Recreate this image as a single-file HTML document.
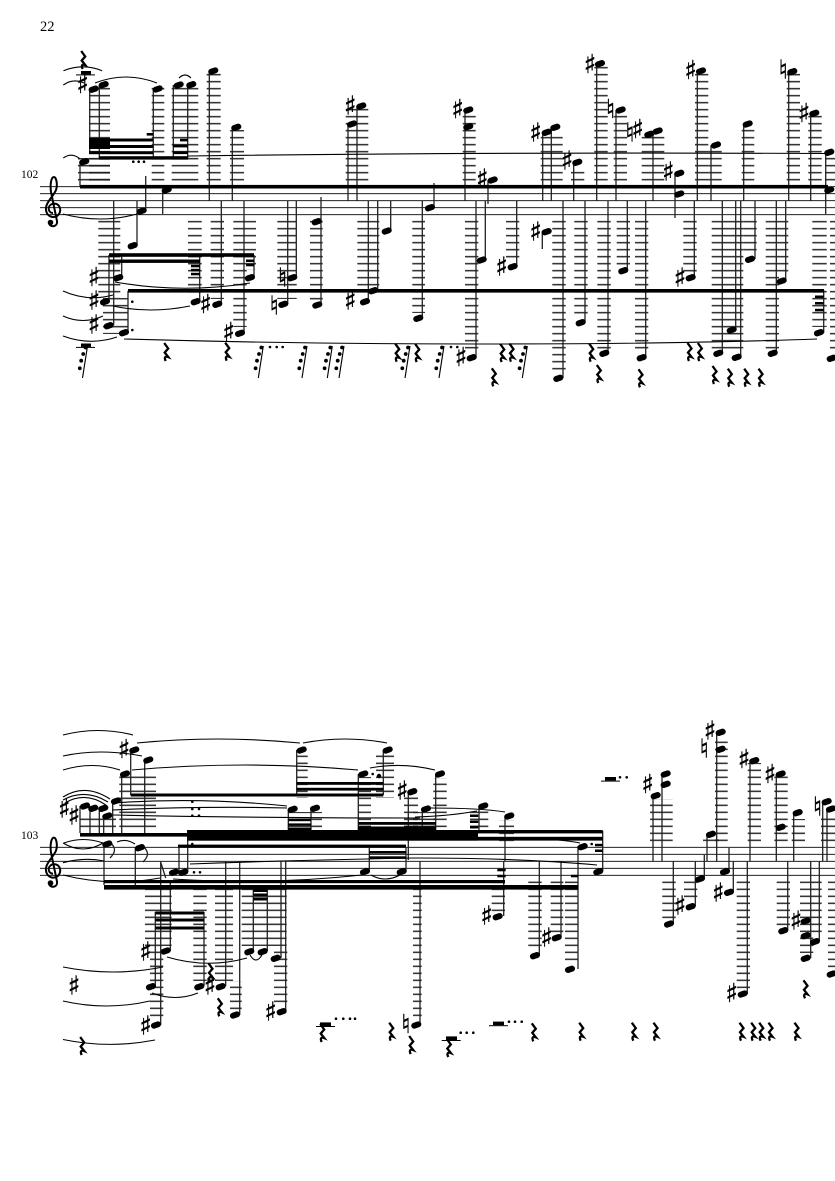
<!DOCTYPE html>
<html><head><meta charset="utf-8"><title>Score page 22</title>
<style>
html,body{margin:0;padding:0;background:#fff}
svg{display:block}
.s{font:26px "DejaVu Sans",sans-serif;text-anchor:middle;dominant-baseline:central;fill:#000;stroke:#000;stroke-width:.45}
.t{font-family:"Liberation Serif",serif;fill:#000}
.n{fill:none;stroke:#000;stroke-width:6;stroke-linecap:round;stroke-dasharray:4.3 100;stroke-dashoffset:-1}
</style></head><body>
<svg width="835" height="1181" viewBox="0 0 835 1181" xmlns="http://www.w3.org/2000/svg">
<defs>
<pattern id="a" patternUnits="userSpaceOnUse" width="10" height="7" y="1.2"><rect y="2.8" width="10" height="1.4" fill="#1a1a1a"/></pattern>
<pattern id="b" patternUnits="userSpaceOnUse" width="10" height="7" y="3.8"><rect y="2.8" width="10" height="1.4" fill="#1a1a1a"/></pattern>
<g id="q"><path d="M-1.5-9 2.5-3.5-1 .5 2.5 5C0 4-2 5 0 9" fill="none" stroke="#000" stroke-width="2.3"/></g>
<g id="f"><path d="M0 0-5 32" stroke="#000" stroke-width="1.1" fill="none"/><circle cx="-2" cy="1.5" r="1.9"/><circle cx="-4.3" cy="8" r="1.9"/><circle cx="-6.3" cy="14.7" r="1.9"/><circle cx="-7.7" cy="22.3" r="1.9"/></g>
<g id="c"><path d="M53 213C48 213 47 206 52 204 59 202 62 209 59 214 56 219 47 218 46 210 45 203 53 197 56 190 58 184 56 177 54 177 51 177 50 185 51 192L57 221C58 227 50 228 49 223" fill="none" stroke="#000" stroke-width="2"/><circle cx="50.5" cy="222.5" r="2.8"/></g>
</defs>
<rect width="835" height="1181" fill="#fff"/>
<text class="t" x="40" y="31" font-size="14.5">22</text>
<text class="t" x="21" y="178" font-size="11.5">102</text>
<text class="t" x="21" y="839" font-size="11.5">103</text>

<!-- staves -->
<path d="M40 186.7H835M40 193.7H835M40 200.7H835M40 207.7H835M40 214.7H835M40 847.3H835M40 854.3H835M40 861.3H835M40 868.3H835M40 875.3H835" stroke="#000" stroke-width=".9" fill="none"/>
<use href="#c"/><use href="#c" y="660.6"/>

<!-- ledger ladders system 1 -->
<g fill="url(#a)">
<rect x="89" y="85" width="21" height="98"/><rect x="151.7" y="85" width="12.6" height="98"/><rect x="171.7" y="85" width="26.6" height="98"/>
<rect x="78" y="158" width="32" height="25"/><rect x="206.7" y="72" width="14" height="111"/><rect x="230" y="130" width="14" height="53"/>
<rect x="345.7" y="107" width="22.6" height="76"/><rect x="462.7" y="113" width="13" height="70"/><rect x="540.7" y="135" width="22" height="48"/>
<rect x="571" y="170" width="13.3" height="13"/><rect x="594.3" y="65" width="13.4" height="118"/><rect x="613.7" y="114" width="13.3" height="69"/>
<rect x="641.7" y="135" width="22.6" height="48"/><rect x="695" y="72" width="13.3" height="111"/><rect x="708.3" y="149" width="13.4" height="34"/>
<rect x="741.7" y="128" width="12.6" height="55"/><rect x="786.7" y="73" width="13.3" height="110"/><rect x="808.3" y="114" width="13.4" height="69"/><rect x="825" y="156" width="10" height="27"/>
<rect x="98.3" y="218" width="22" height="80"/><rect x="103" y="298" width="25" height="36"/>
<rect x="188" y="218" width="13.7" height="78"/><rect x="210.7" y="218" width="13.3" height="81"/><rect x="233.3" y="218" width="22.7" height="52"/><rect x="233.3" y="270" width="13.4" height="57"/>
<rect x="277.3" y="218" width="19.4" height="81"/><rect x="310" y="218" width="12.7" height="82"/><rect x="357.3" y="218" width="22" height="68"/>
<rect x="412.3" y="218" width="12.7" height="95"/><rect x="465" y="218" width="13.3" height="134"/><rect x="506" y="218" width="13.3" height="43"/>
<rect x="552.3" y="218" width="13.4" height="155"/><rect x="574.3" y="218" width="13.4" height="99"/><rect x="597.3" y="218" width="13.4" height="131"/>
<rect x="616.7" y="218" width="13.3" height="47"/><rect x="635" y="218" width="13.3" height="134"/><rect x="683.3" y="218" width="13.4" height="54"/>
<rect x="711.7" y="218" width="13.3" height="131"/><rect x="725" y="218" width="18.3" height="134"/><rect x="743.3" y="218" width="13.4" height="35"/>
<rect x="765.7" y="218" width="13.3" height="131"/><rect x="779" y="218" width="9.3" height="58"/><rect x="812.3" y="218" width="14.4" height="109"/><rect x="830" y="218" width="5" height="134"/>
</g>
<!-- ledger ladders system 2 -->
<g fill="url(#b)">
<rect x="119.3" y="775" width="36.7" height="56"/><rect x="80" y="816" width="36" height="16"/>
<rect x="296.7" y="753" width="11" height="45"/><rect x="376" y="753" width="18" height="45"/><rect x="358" y="777" width="13" height="55"/><rect x="288" y="812" width="34" height="20"/>
<rect x="404" y="795" width="14" height="37"/>
<rect x="433.3" y="778" width="13.4" height="50"/><rect x="413" y="812" width="22" height="20"/><rect x="470" y="810" width="18.3" height="20"/><rect x="499" y="820" width="15" height="22"/>
<rect x="650" y="799" width="22.7" height="44"/><rect x="715" y="738" width="12.7" height="105"/><rect x="747.7" y="763" width="13.3" height="80"/><rect x="774.3" y="776" width="13.4" height="67"/><rect x="791.7" y="819" width="13.3" height="24"/><rect x="821" y="814" width="14" height="29"/><rect x="703" y="838" width="16" height="5"/>
<rect x="145" y="888" width="26.7" height="58"/><rect x="150" y="946" width="13.3" height="75"/><rect x="193.3" y="888" width="13.4" height="93"/><rect x="215" y="888" width="18" height="93"/><rect x="230" y="981" width="11.7" height="30"/><rect x="241.7" y="888" width="45" height="58"/><rect x="274" y="950" width="13.3" height="56"/>
<rect x="413" y="888" width="8.7" height="132"/><rect x="491.7" y="881" width="13.3" height="31"/><rect x="528.3" y="881" width="13.4" height="70"/><rect x="550.7" y="881" width="12.6" height="52"/><rect x="565" y="881" width="13.3" height="83"/>
<rect x="662.3" y="881" width="13.4" height="38"/><rect x="684" y="881" width="13.3" height="21"/><rect x="736.7" y="881" width="13.3" height="108"/><rect x="776.7" y="881" width="13.3" height="45"/><rect x="800" y="881" width="13.3" height="72"/><rect x="813" y="881" width="8.7" height="55"/><rect x="828" y="881" width="7" height="88"/>
</g>

<!-- stems -->
<path fill="none" stroke="#222" stroke-width="1.3" d="M89.7 89V153M99.3 85V158M153.3 89V158M173.3 85V158M187.7 85V158M209.3 71V200.7M232.3 127V200.7M348 124V200.7M357 106V200.7M80 161V187M162.7 190V214M145.7 176V211M137 200.7V245M113.7 200.7V325M121.7 255V277M109 255V301M128 291V332M199.7 255V301M221.3 200.7V304M244 200.7V333M254 255V277M296.3 200.7V277M287.7 200.7V304M321 197V305M368.3 200.7V301M377.7 200.7V290M390.7 200.7V231M434 183V207M422.3 200.7V318M465 110V200.7M488 180V204M476 200.7V357M485.3 200.7V260M516.7 200.7V266M542.7 132V200.7M551.3 127V200.7M542.3 231V249M563 200.7V378M573.7 162V200.7M585 200.7V322M596.7 63V200.7M608 200.7V353M616 110V200.7M627.3 200.7V270M645.7 200.7V357M653 131V200.7M675 173V218M694.3 200.7V277M697.3 71V200.7M711 145V200.7M722.3 200.7V353M735.7 200.7V330M740.7 200.7V357M743.7 124V200.7M755 200.7V259M776.3 200.7V353M785.7 200.7V281M788.7 71V200.7M810.7 113V200.7M823.7 290V333M825.7 152V214"/>
<path fill="none" stroke="#222" stroke-width="1.3" d="M130.7 750V795M144.7 760V833M121.7 774V833M112.7 801V833M80 806V833M90 808V833M99.3 808V833M103.7 816V833M296.7 750V795M383.3 750V795M358.3 774V830M288.3 809V830M311 808V830M408.3 791V860M435.7 774V830M422.3 809V830M479 806V830M505 816V861M503.7 861V916M578 846V969M602.7 831V871M539.3 861V955M561 861V937M653 795V861M662 774V861M673.3 861V924M695.3 861V906M704.3 855V879M707 834V861M716.7 732V861M729 848V871M733.3 861V892M747.3 861V994M750 760V861M776.3 774V861M787.7 861V930M793.7 812V861M810.7 861V958M819.3 861V941M822.7 801V861M827 809V861M170.3 880V951M155.3 912V987M160.7 861V1025M204 912V986M225.7 861V986M239.7 861V1015M253.3 885V951M267.3 885V951M281 861V958M285.7 861V1011M420 861V1025M104 844V885M135.3 847V885M179 848V872M187.7 840V872M369.3 848V871M406 848V871M161 863 165.7 878M110 842C116 848 116 852 110 858M143 846C149 852 149 856 143 862"/>

<!-- noteheads -->
<path class="n" d="M90.7 90.2l6-2M100.7 85.7l6-2M154.7 90l6-2M175.7 86l6-2M188.3 85.7l6-2M210.3 72l6-2M233.3 128.3l6-2M349 125l6-2M358.3 107l6-2M81.3 162.7l6-2M163.7 191l6-2M138.7 212l6-2M129.7 246.7l6-2M115.3 278.7l6-2M102 302.7l6-2M105.7 326.7l6-2M121 333.7l6-2M192.7 302.7l6-2M214.3 305.3l6-2M247 278.7l6-2M237 334.3l6-2M289.3 278.7l6-2M280.3 305.3l6-2M313.7 222.7l6-2M314.3 306l6-2M362 302.7l6-2M370.3 291.7l6-2M383.7 232l6-2M427 208.7l6-2M415.3 319.3l6-2M465.3 111l6-2M465.3 127.7l6-2M489.7 181l6-2M468.7 358.7l6-2M478.7 261l6-2M509.7 267.7l6-2M543.7 133.3l6-2M552.3 128.3l6-2M543.7 232.7l6-2M555.3 379.3l6-2M574.3 163.3l6-2M577.7 323.7l6-2M597 64.7l6-2M601.3 354.3l6-2M617.7 111l6-2M620.3 271.7l6-2M638.7 358.7l6-2M646.3 135.3l6-2M654.7 132l6-2M676.3 174.3l6-2M676.3 195l6-2M687.7 278.7l6-2M698 72l6-2M713 146l6-2M715.3 354.3l6-2M728.7 331l6-2M733.7 358.3l6-2M744.7 125l6-2M747 260.3l6-2M769.7 354.3l6-2M778.7 282l6-2M789.3 72.7l6-2M811.3 114.3l6-2M816 333.7l6-2M826.3 153.3l6-2M826.3 191l6-2M828.7 359.3l6-2"/>
<path class="n" d="M131.3 751l6-2M145.3 761l6-2M122 775l6-2M113 802l6-2M82 807l6-2M90.3 809.3l6-2M100.3 809.3l6-2M104.3 817l6-2M298.7 751l6-2M384.7 751l6-2M360.3 775l6-2M289.7 810.3l6-2M312 809.3l6-2M409.3 792.7l6-2M437 775l6-2M423 810l6-2M480.3 807l6-2M506.3 817l6-2M494.7 917.7l6-2M579.7 847.7l6-2M567 970.3l6-2M595.3 872.7l6-2M532 956.7l6-2M553.7 938.7l6-2M652.7 796.7l6-2M662.7 775l6-2M662.7 785.3l6-2M666 925l6-2M687.7 907.7l6-2M697 880l6-2M708 835.3l6-2M717.7 733.3l6-2M717.7 750.3l6-2M722 872.7l6-2M726 893.3l6-2M739.7 995l6-2M751.3 761.7l6-2M777.7 775l6-2M777.7 828.3l6-2M794.7 813.7l6-2M780.3 931.7l6-2M802.7 922l6-2M802.7 936.7l6-2M802.7 959.3l6-2M812 942.7l6-2M823.7 802.7l6-2M828 810l6-2M828.7 975l6-2M104.3 845l6-2M137 848.7l6-2M171 873.3l6-2M180.3 873.3l6-2M362 872.7l6-2M398.7 872.7l6-2M162.7 952l6-2M148 987.7l6-2M153 1026l6-2M196.3 987.7l6-2M217.7 987.7l6-2M232 1016l6-2M246.3 952.7l6-2M259.7 952.7l6-2M272.7 959.3l6-2M278.7 1012.7l6-2M413.3 1026l6-2"/>

<!-- beams -->
<g fill="#000">
<rect x="80" y="184.9" width="748" height="3.6"/><rect x="128" y="289" width="696" height="3.6"/>
<rect x="99" y="156.2" width="89" height="3.4"/><rect x="89" y="138.5" width="64" height="3"/><rect x="89" y="145" width="64" height="3"/><rect x="89" y="151.2" width="64" height="3"/><rect x="89" y="138" width="21" height="7"/><rect x="89" y="146" width="21" height="3"/><rect x="146.7" y="133" width="6.6" height="2.6"/><rect x="173" y="144.6" width="15" height="2.8"/><rect x="173" y="151.3" width="15" height="2.8"/><rect x="180" y="138.8" width="8" height="2.6"/>
<rect x="109" y="253.2" width="145" height="3.6"/><rect x="109" y="259.5" width="91" height="3.4"/><rect x="191" y="264.8" width="9" height="2.5"/><rect x="191" y="268.8" width="9" height="2.5"/><rect x="191" y="272.8" width="9" height="2.5"/><rect x="246" y="259.5" width="8" height="2.5"/><rect x="246" y="263.8" width="8" height="2.5"/>
<rect x="815" y="295.5" width="8.7" height="2.5"/><rect x="815" y="302" width="8.7" height="2.5"/><rect x="815" y="308.8" width="8.7" height="2.5"/>

<rect x="80" y="833" width="108" height="3.6"/><rect x="187" y="830" width="291" height="10.7"/><rect x="478" y="830" width="124.7" height="3.4"/><rect x="478" y="836.8" width="124.7" height="3.8"/>
<rect x="178" y="844.6" width="228" height="3.2"/><rect x="369" y="851" width="37" height="2.6"/><rect x="369" y="856.3" width="37" height="2.6"/>
<rect x="130.7" y="793.5" width="252.6" height="3"/><rect x="296.7" y="782" width="86.6" height="2.8"/><rect x="296.7" y="787.8" width="86.6" height="2.8"/><rect x="288" y="818.8" width="23" height="2.4"/><rect x="288" y="823.4" width="23" height="2.4"/><rect x="288" y="827.6" width="23" height="2.4"/>
<rect x="358" y="822" width="78" height="2.8"/><rect x="358" y="826.5" width="78" height="3.5"/>
<rect x="470" y="814.5" width="8.3" height="2.5"/><rect x="470" y="820.5" width="8.3" height="2.5"/><rect x="470" y="826" width="8.3" height="2.5"/>
<rect x="104" y="880" width="401" height="3.2"/><rect x="104" y="885" width="474.3" height="4.6"/>
<rect x="497.3" y="868.8" width="8.4" height="2.5"/><rect x="497.3" y="874.8" width="8.4" height="2.5"/><rect x="571" y="874.8" width="7.3" height="2.5"/><rect x="595" y="843.8" width="7.7" height="2.5"/><rect x="595" y="849.5" width="7.7" height="2.5"/>
<rect x="155.3" y="911.5" width="48.7" height="3"/><rect x="155.3" y="918.5" width="48.7" height="3"/><rect x="155.3" y="926.5" width="48.7" height="3"/>
<rect x="253.3" y="889.5" width="14" height="2.5"/><rect x="253.3" y="893.5" width="14" height="2.5"/><rect x="253.3" y="897.5" width="14" height="3"/>
<!-- block rests -->
<rect x="81" y="71" width="10" height="3.4"/><rect x="76" y="74.4" width="19" height="1"/><rect x="81" y="343.5" width="10" height="3.4"/><rect x="76" y="346.9" width="19" height="1"/>
<rect x="605" y="777" width="11" height="3.6"/><rect x="601" y="780.6" width="19" height="1"/><rect x="493" y="1021.6" width="11" height="3.6"/><rect x="489" y="1025.2" width="19" height="1"/><rect x="446" y="1036.4" width="11" height="3.6"/><rect x="441.7" y="1040" width="19" height="1"/><rect x="320" y="1022.4" width="11" height="3.6"/><rect x="316" y="1026" width="19" height="1"/>
</g>
<!-- dots -->
<g fill="#000">
<circle cx="133.3" cy="161.7" r="1.3"/><circle cx="138.7" cy="161.7" r="1.3"/><circle cx="144" cy="161.7" r="1.3"/><circle cx="132.3" cy="301.7" r="1.3"/><circle cx="132.3" cy="330" r="1.3"/>
<circle cx="270" cy="347" r="1.3"/><circle cx="276.7" cy="347" r="1.3"/><circle cx="282.7" cy="347" r="1.3"/><circle cx="451" cy="347" r="1.3"/><circle cx="457.3" cy="347" r="1.3"/>
<circle cx="192.3" cy="801.7" r="1.3"/><circle cx="192.3" cy="809" r="1.3"/><circle cx="199" cy="809" r="1.3"/><circle cx="192.3" cy="815.7" r="1.3"/><circle cx="199" cy="815.7" r="1.3"/><circle cx="192.3" cy="844" r="1.3"/>
<circle cx="194" cy="872.3" r="1.3"/><circle cx="200" cy="872.3" r="1.3"/><circle cx="372.7" cy="774" r="1.3"/><circle cx="379" cy="776" r="2.2"/><circle cx="591.7" cy="844" r="1.3"/>
<circle cx="620" cy="777.3" r="1.3"/><circle cx="626.7" cy="777.3" r="1.3"/><circle cx="509" cy="1021.7" r="1.3"/><circle cx="515" cy="1021.7" r="1.3"/><circle cx="521.7" cy="1021.7" r="1.3"/><circle cx="460.7" cy="1032.7" r="1.3"/><circle cx="466.7" cy="1032.7" r="1.3"/><circle cx="473.3" cy="1032.7" r="1.3"/><circle cx="336" cy="1018.7" r="1.3"/><circle cx="343.3" cy="1018.7" r="1.3"/><circle cx="350" cy="1018.7" r="1.3"/><circle cx="355" cy="1018.7" r="1.3"/>
</g>

<!-- slurs and ties -->
<path fill="none" stroke="#000" stroke-width="1.1" d="M63.5 70.7Q83 63 102 70.7M63.3 85Q73 78 84 83M63.3 158Q72 152 80 159M95 83Q126 71 157 83M179 78Q185 72 191 78M188 156Q500 152 825 153.5M63 214Q100 224 137 214M115 282Q182 294 250 283M113 306Q150 314 190 306M63 291Q88 302 113 295M63 316Q83 325 103 316M63 336Q90 346 117 337M124 339Q300 344 480 344Q680 344 817 339"/>
<path fill="none" stroke="#000" stroke-width="1.1" d="M63 735Q98 726 133 735M63 756Q100 748 142 756M63 770Q92 761 120 770M63 797Q85 783 110 799M63 800Q85 788 108 802M65 803Q85 791 106 805M137 743Q218 735 300 743M303 743Q345 735 387 743M132 770Q245 760 358 770M370 768Q402 762 435 770M112 803Q200 797 287 806M112 810Q200 806 287 808M113 815Q260 818 420 818M415 817Q450 816 477 811M430 808Q480 808 505 812M167 957Q207 969 247 958M250 955Q256 965 262 955M152 993Q175 1002 198 993M63 967Q113 977 163 967M63 1001Q106 1011 150 1001M63 1039.5Q109 1049 155 1040M371 875Q385 883 400 875M63 862.7Q84 857 104 861M63 875Q110 887 160 878M190 864Q300 860 415 858Q520 858 597 865M173 879Q270 885 362 875M63 843Q83 855 103 843M64 843Q83 836 103 843M117 842Q126 838 135 844M542 839Q565 840 580 843"/>

<!-- quarter rests -->
<g fill="#000">
<use href="#q" x="82.7" y="60"/><use href="#q" x="165.7" y="352"/><use href="#q" x="226.7" y="351.7"/><use href="#q" x="396.7" y="352.7"/><use href="#q" x="416.7" y="353"/><use href="#q" x="501.7" y="353"/><use href="#q" x="511" y="352.7"/><use href="#q" x="493.3" y="377.3"/><use href="#q" x="590.7" y="352.7"/><use href="#q" x="598.3" y="374"/><use href="#q" x="640" y="378.3"/><use href="#q" x="689" y="352"/><use href="#q" x="699.3" y="352"/><use href="#q" x="714" y="375"/><use href="#q" x="729.3" y="377.7"/><use href="#q" x="745.7" y="377.7"/><use href="#q" x="760" y="377.7"/>
<use href="#q" x="210" y="972.3"/><use href="#q" x="219.3" y="1007.3"/><use href="#q" x="81.7" y="1046"/><use href="#q" x="448.3" y="1048"/><use href="#q" x="321.7" y="1033"/><use href="#q" x="390.7" y="1031.7"/><use href="#q" x="410.7" y="1045"/><use href="#q" x="533.3" y="1032.3"/><use href="#q" x="580.7" y="1031.7"/><use href="#q" x="633.3" y="1031.7"/><use href="#q" x="655" y="1031.7"/><use href="#q" x="741" y="1031.7"/><use href="#q" x="752.7" y="1031.7"/><use href="#q" x="760.7" y="1031.7"/><use href="#q" x="770" y="1031.7"/><use href="#q" x="796" y="1031.7"/><use href="#q" x="805" y="989.3"/>
<!-- flagged rests -->
<use href="#f" x="87.5" y="346"/><use href="#f" x="263.3" y="346"/><use href="#f" x="307" y="346"/><use href="#f" x="332.3" y="346"/><use href="#f" x="344" y="346"/><use href="#f" x="410" y="346"/><use href="#f" x="444" y="346"/><use href="#f" x="527.3" y="346"/>
</g>

<!-- accidentals -->
<g>
<text class="s" x="82.7" y="85">♯</text><text class="s" x="94" y="278">♯</text><text class="s" x="94" y="301.7">♯</text><text class="s" x="94" y="325.7">♯</text><text class="s" x="205.7" y="305">♯</text><text class="s" x="228.7" y="333">♯</text><text class="s" x="282.7" y="278.3">♮</text><text class="s" x="274.3" y="306.7">♮</text><text class="s" x="350.3" y="106.7">♯</text><text class="s" x="350.3" y="301.7">♯</text><text class="s" x="457.7" y="110">♯</text><text class="s" x="482.3" y="179.3">♯</text><text class="s" x="461" y="358">♯</text><text class="s" x="501.7" y="267.3">♯</text><text class="s" x="535.7" y="133.3">♯</text><text class="s" x="535.7" y="232.3">♯</text><text class="s" x="567" y="161.7">♯</text><text class="s" x="590" y="65">♯</text><text class="s" x="610.7" y="110">♮</text><text class="s" x="630" y="133.3">♮</text><text class="s" x="637.7" y="130">♯</text><text class="s" x="668.3" y="172.7">♯</text><text class="s" x="680" y="278.3">♯</text><text class="s" x="690.7" y="71">♯</text><text class="s" x="783.3" y="70.7">♮</text><text class="s" x="804" y="114">♯</text>
<text class="s" x="124" y="750">♯</text><text class="s" x="64.3" y="809.3">♯</text><text class="s" x="74" y="816.7">♯</text><text class="s" x="402.3" y="791.7">♯</text><text class="s" x="145.7" y="952.3">♯</text><text class="s" x="145.7" y="1026.7">♯</text><text class="s" x="74" y="986.7">♯</text><text class="s" x="210" y="986.7">♯</text><text class="s" x="270.7" y="1012.7">♯</text><text class="s" x="406" y="1025">♮</text><text class="s" x="486.7" y="916.7">♯</text><text class="s" x="546.7" y="938.3">♯</text><text class="s" x="647.7" y="785">♯</text><text class="s" x="680" y="906.7">♯</text><text class="s" x="710" y="731.7">♯</text><text class="s" x="704.3" y="749.3">♮</text><text class="s" x="718.3" y="893.3">♯</text><text class="s" x="744" y="760">♯</text><text class="s" x="731.7" y="994">♯</text><text class="s" x="770" y="775">♯</text><text class="s" x="796" y="921.7">♯</text><text class="s" x="817.7" y="807.3">♮</text>
</g>
</svg>
</body></html>
